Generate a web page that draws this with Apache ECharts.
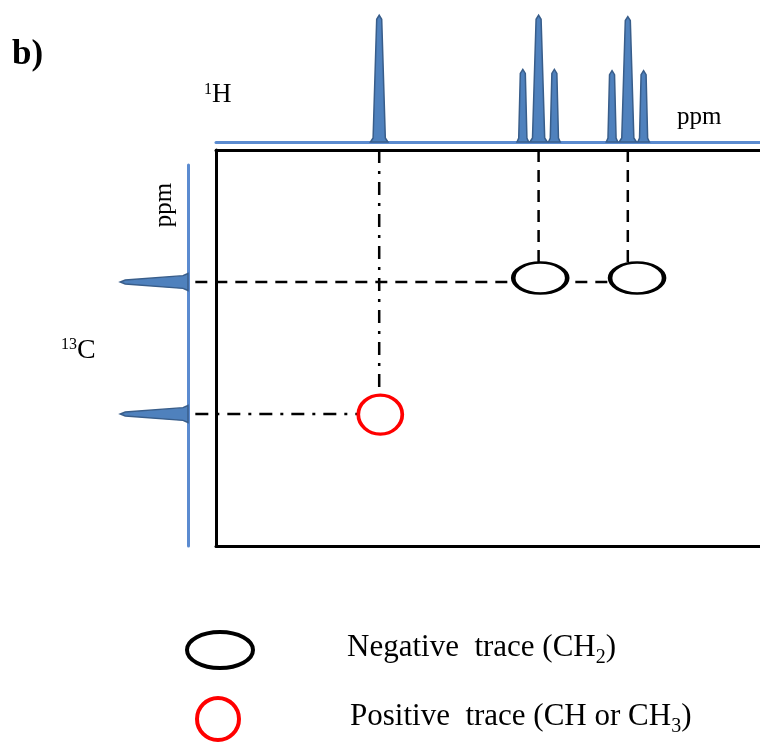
<!DOCTYPE html>
<html>
<head>
<meta charset="utf-8">
<script src="https://cdn.jsdelivr.net/npm/echarts@6/dist/echarts.min.js"></script>
<style>
    html, body { margin: 0; padding: 0; background: #fff; }
    #chart { width: 760px; height: 743px; }
</style>
</head>
<body>
<div id="chart"></div>
<script>
// 1H projection (ppm, relative height)
var hPeaks = [7.00, 4.36, 4.07, 3.78, 2.72, 2.43, 2.14];
var hHeights = [0.96, 0.55, 0.96, 0.55, 0.54, 0.95, 0.54];
// 13C projection (ppm, relative height)
var cPeaks = [50, 100];
var cHeights = [0.77, 0.77];
// cross peaks: CH2 (negative) and CH (positive)
var ch2X = [4.04, 2.26];
var ch2Y = [48.5, 48.5];
var chX = [6.98];
var chY = [100.2];

var serif = '"Liberation Serif", "Times New Roman", serif';
var ellipsePath = 'path://M50,0C77.6,0,100,22.4,100,50C100,77.6,77.6,100,50,100C22.4,100,0,77.6,0,50C0,22.4,22.4,0,50,0Z';
var guideLeft = 10.38;           // guides start just right of the 13C trace
var cAxisMin = 150 * (165 - 150) / 396;

function zip(a, b) {
    return a.map(function (v, i) { return [v, b[i]]; });
}

// 1H peaks drawn as narrow spikes on the top baseline
function hPeakItem(params, api) {
    var h = api.value(1);
    var base = api.coord([api.value(0), 0]);
    var tip = api.coord([api.value(0), h]);
    var hw = 2 + 7 * h;
    return {
        type: 'polygon',
        shape: {
            points: [
                [base[0] - hw, base[1]], [base[0] - hw * 0.7, base[1] - 4],
                [tip[0] - 2.5, tip[1] + 4], [tip[0], tip[1]], [tip[0] + 2.5, tip[1] + 4],
                [base[0] + hw * 0.7, base[1] - 4], [base[0] + hw, base[1]]
            ]
        },
        style: { fill: '#4f81bd', stroke: '#385d8a', lineWidth: 1.5 }
    };
}

// 13C peaks point to the left
function cPeakItem(params, api) {
    var y = api.value(1);
    var base = api.coord([0, y]);
    var tip = api.coord([api.value(0), y]);
    var hw = 8.5;
    return {
        type: 'polygon',
        shape: {
            points: [
                [base[0], base[1] - hw], [base[0] - 5, base[1] - hw * 0.75],
                [tip[0] + 5, tip[1] - 2], [tip[0], tip[1]], [tip[0] + 5, tip[1] + 2],
                [base[0] - 5, base[1] + hw * 0.75], [base[0], base[1] + hw]
            ]
        },
        style: { fill: '#4f81bd', stroke: '#385d8a', lineWidth: 1.5 }
    };
}

// guide lines joining the projections to the cross peaks
function guide(data, dash) {
    return {
        type: 'custom',
        xAxisIndex: 0,
        yAxisIndex: 0,
        data: data,
        silent: true,
        clip: false,
        z: 2,
        renderItem: function (params, api) {
            var p1 = api.coord([api.value(0), api.value(1)]);
            var p2 = api.coord([api.value(2), api.value(3)]);
            return {
                type: 'line',
                shape: { x1: p1[0], y1: p1[1], x2: p2[0], y2: p2[1] },
                style: { stroke: '#000', lineWidth: 2.5, lineDash: dash }
            };
        }
    };
}

var ch2Guides = [
    [hPeaks[2], 0, hPeaks[2], ch2Y[0]],
    [hPeaks[5], 0, hPeaks[5], ch2Y[1]],
    [guideLeft, cPeaks[0], ch2X[1], cPeaks[0]]
];
var chGuides = [
    [hPeaks[0], 0, hPeaks[0], chY[0]],
    [guideLeft, cPeaks[1], chX[0], cPeaks[1]]
];

var legendRich = {
    g1: { width: 89 },
    g2: { width: 106 },
    n: { fontFamily: serif, fontSize: 31, color: '#000', lineHeight: 35, verticalAlign: 'top' },
    s: { fontFamily: serif, fontSize: 20, color: '#000', padding: [15, 0, 0, 0], verticalAlign: 'top' }
};

var noTicks = { axisTick: { show: false }, axisLabel: { show: false }, splitLine: { show: false } };

var option = {
    backgroundColor: '#fff',
    animation: false,
    grid: [
        { left: 216, top: 150, width: 544, height: 396 },
        { left: 100, top: 165, width: 88, height: 381 },
        { left: 216, top: 10, width: 544, height: 132 }
    ],
    xAxis: [
        Object.assign({ gridIndex: 0, type: 'value', min: 0, max: 10, inverse: true, position: 'bottom',
            axisLine: { onZero: false, lineStyle: { color: '#000', width: 3 } } }, noTicks),
        Object.assign({ gridIndex: 0, type: 'value', min: 0, max: 10, inverse: true, position: 'top',
            axisLine: { onZero: false, lineStyle: { color: '#000', width: 3 } } }, noTicks),
        { gridIndex: 1, type: 'value', min: 0, max: 1, inverse: true, show: false },
        Object.assign({ gridIndex: 2, type: 'value', min: 0, max: 10, inverse: true, position: 'bottom',
            axisLine: { onZero: false, lineStyle: { color: '#5b8bd0', width: 3 } } }, noTicks)
    ],
    yAxis: [
        Object.assign({ gridIndex: 0, type: 'value', min: 0, max: 150, inverse: true, position: 'left',
            axisLine: { show: true, onZero: false, lineStyle: { color: '#000', width: 3 } } }, noTicks),
        Object.assign({ gridIndex: 1, type: 'value', min: cAxisMin, max: 150, inverse: true, position: 'right',
            axisLine: { show: true, onZero: false, lineStyle: { color: '#5b8bd0', width: 3 } } }, noTicks),
        { gridIndex: 2, type: 'value', min: 0, max: 1, show: false }
    ],
    legend: [{
        data: ['Negative trace (CH2)'],
        left: 185, top: 630, padding: 0,
        itemWidth: 66, itemHeight: 36,
        icon: ellipsePath, symbolKeepAspect: false,
        selectedMode: false,
        itemStyle: { color: '#fff', borderColor: '#000', borderWidth: 4 },
        formatter: function () { return '{g1| }{n|Negative  trace (CH}{s|2}{n|)}'; },
        textStyle: { rich: legendRich }
    }, {
        data: ['Positive trace (CH or CH3)'],
        left: 195, top: 696, padding: 0,
        itemWidth: 42, itemHeight: 42,
        icon: ellipsePath, symbolKeepAspect: false,
        selectedMode: false,
        itemStyle: { color: '#fff', borderColor: '#f00', borderWidth: 4 },
        formatter: function () { return '{g2| }{n|Positive  trace (CH or CH}{s|3}{n|)}'; },
        textStyle: { rich: legendRich }
    }],
    graphic: [
        { type: 'text', x: 12, y: 55, style: { text: 'b)', font: 'bold 35px ' + serif, fill: '#000', verticalAlign: 'middle' } },
        { type: 'text', x: 204, y: 95, style: {
            text: '{u|1}{n|H}', verticalAlign: 'middle',
            rich: { u: { fontFamily: serif, fontSize: 16, verticalAlign: 'top' }, n: { fontFamily: serif, fontSize: 27 } }
        } },
        { type: 'text', x: 677, y: 117, style: { text: 'ppm', font: '25px ' + serif, fill: '#000', verticalAlign: 'middle' } },
        { type: 'text', x: 164, y: 205, rotation: Math.PI / 2, style: { text: 'ppm', font: '25px ' + serif, fill: '#000', align: 'center', verticalAlign: 'middle' } },
        { type: 'text', x: 61, y: 351, style: {
            text: '{u|13}{n|C}', verticalAlign: 'middle',
            rich: { u: { fontFamily: serif, fontSize: 16, verticalAlign: 'top' }, n: { fontFamily: serif, fontSize: 28 } }
        } }
    ],
    series: [
        {
            type: 'custom', name: '1H', xAxisIndex: 3, yAxisIndex: 2,
            data: zip(hPeaks, hHeights), renderItem: hPeakItem, silent: true, clip: false, z: 3
        },
        {
            type: 'custom', name: '13C', xAxisIndex: 2, yAxisIndex: 1,
            data: zip(cHeights, cPeaks), renderItem: cPeakItem, silent: true, clip: false, z: 3
        },
        guide(ch2Guides, [12, 8]),
        guide(chGuides, [13, 8, 3, 8]),
        {
            type: 'scatter', name: 'Negative trace (CH2)', xAxisIndex: 0, yAxisIndex: 0,
            data: zip(ch2X, ch2Y), symbol: ellipsePath, symbolKeepAspect: false, symbolSize: [54, 31],
            itemStyle: { color: '#fff', borderColor: '#000', borderWidth: 3.5, opacity: 1 },
            silent: true, z: 5
        },
        {
            type: 'scatter', name: 'Positive trace (CH or CH3)', xAxisIndex: 0, yAxisIndex: 0,
            data: zip(chX, chY), symbol: ellipsePath, symbolKeepAspect: false, symbolSize: [44, 39],
            itemStyle: { color: '#fff', borderColor: '#f00', borderWidth: 3.5, opacity: 1 },
            silent: true, z: 5
        }
    ]
};

var myChart = echarts.init(document.getElementById('chart'));
myChart.setOption(option);
</script>
</body>
</html>
